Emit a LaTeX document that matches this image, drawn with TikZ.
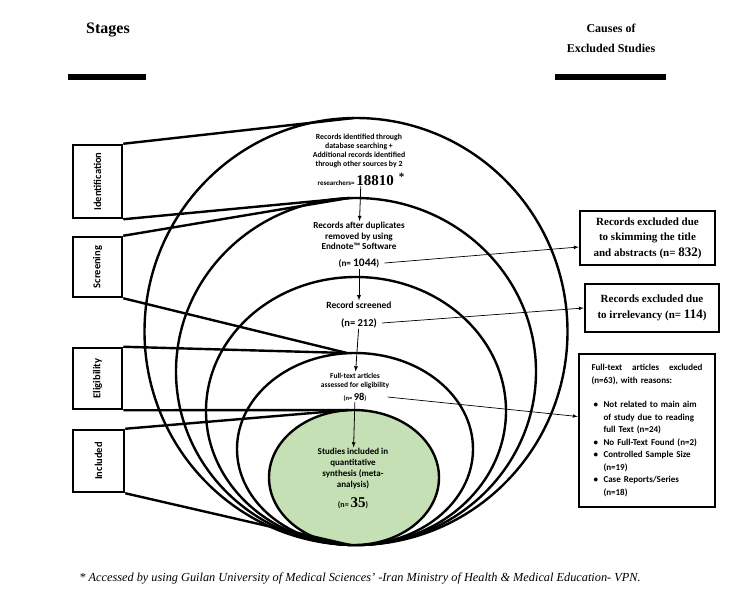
\documentclass[tikz,border=0pt]{standalone}
\usepackage{fontspec}
\setmainfont{Liberation Serif}
\newfontfamily\calib{Carlito}
\usepackage{tikz}
\usetikzlibrary{positioning}
\definecolor{incgreen}{RGB}{197,224,180}
\tikzstyle{stagebox}=[draw, line width=2.5pt, minimum width=49pt, inner sep=0pt, font=\calib\bfseries\fontsize{10.5}{12}\selectfont]
\tikzstyle{exbox}=[draw, line width=2.5pt, inner sep=0pt, align=center, font=\bfseries\fontsize{11}{15.5}\selectfont]
\tikzstyle{ring}=[line width=2.4pt]
\tikzstyle{link}=[line width=2.4pt]
\tikzstyle{flow}=[-latex, line width=0.8pt]
\tikzstyle{cause}=[-latex, line width=0.7pt]
\tikzstyle{inner}=[align=center, inner sep=1pt, font=\calib\bfseries\fontsize{9.2}{10.5}\selectfont]
\newcommand{\bignum}[2][14]{{\fontsize{#1}{#1}\selectfont\rmfamily #2}}
\newcommand{\sansnum}[2][11]{{\fontsize{#1}{#1}\selectfont #2}}

\begin{document}
\begin{tikzpicture}[x=1pt, y=-1pt]
    \useasboundingbox (0,0) rectangle (750,595);
    % headers
    \node[font=\bfseries\fontsize{16}{18}\selectfont] (stages) at (108,30) {Stages};
    \node[font=\bfseries\fontsize{12}{20}\selectfont, align=center] (causes) at (611,38) {Causes of\\Excluded Studies};
    \draw[line width=6pt] (68,77) -- (146,77);
    \draw[line width=6pt] (555,77) -- (666,77);
    % nested stages
    \draw[ring] (356,331.5) ellipse [x radius=211.5pt, y radius=213.5pt];
    \draw[ring] (356,371.5) ellipse [x radius=180pt, y radius=173.5pt];
    \draw[ring] (356,411) ellipse [x radius=150pt, y radius=134pt];
    \draw[ring] (355,449) ellipse [x radius=118pt, y radius=96pt];
    \draw[ring, fill=incgreen] (354,477.5) ellipse [x radius=85pt, y radius=67.5pt];
    \coordinate (top1) at (354,118);
    \coordinate (top2) at (349,198);
    \coordinate (top4) at (347,353);
    \coordinate (topg) at (348,410);
    \coordinate (bottom) at (350,545);
    % stage boxes
    \node[stagebox, minimum height=73pt] (ident) at (97.5,181.5) {\rotatebox{90}{Identification}};
    \node[stagebox, minimum height=60pt] (screen) at (97.5,267) {\rotatebox{90}{Screening}};
    \node[stagebox, minimum height=61pt] (elig) at (97.5,378.5) {\rotatebox{90}{Eligibility}};
    \node[stagebox, minimum height=62pt, minimum width=51pt] (incl) at (98.5,461) {\rotatebox{90}{Included}};
    \draw[link] (ident.north east) -- (top1);
    \draw[link] (ident.south east) -- (top2);
    \draw[link] (screen.north east) -- (top2);
    \draw[link] (screen.south east) -- (top4);
    \draw[link] (elig.north east) -- (top4);
    \draw[link] (elig.south east) -- (topg);
    \draw[link] (incl.north east) -- (topg);
    \draw[link] (incl.south east) -- (bottom);
    % texts inside
    \node[inner, font=\calib\bfseries\fontsize{7.8}{9}\selectfont] (found) at (359,150.5) {Records identified through\\database searching +\\Additional records identified\\through other sources by 2};
    \node[inner, font=\calib\bfseries\fontsize{7}{9}\selectfont] (n18810) at (361,179) {researchers= \bignum[15]{18810}\hspace{5pt}\raisebox{5pt}{\bignum[11]{*}}};
    \node[inner] (dup) at (359,236) {Records after duplicates\\removed by using\\Endnote™ Software};
    \node[inner] (n1044) at (359,263) {(n= \sansnum[11.5]{1044})};
    \node[inner, font=\calib\bfseries\fontsize{9.5}{10.5}\selectfont] (screened) at (359,305) {Record screened};
    \node[inner, font=\calib\bfseries\fontsize{10.5}{11}\selectfont] (n212) at (359,323) {(n= 212)};
    \node[inner, font=\calib\bfseries\fontsize{7.5}{9}\selectfont] (fulltext) at (355,380.5) {Full-text articles\\assessed for eligibility};
    \node[inner, font=\calib\bfseries\fontsize{6.5}{9}\selectfont] (n98) at (355,397) {(n= \sansnum[10.5]{98})};
    \node[inner, font=\calib\bfseries\fontsize{9}{11}\selectfont] (studies) at (353,469) {Studies included in\\quantitative\\synthesis (meta-\\analysis)};
    \node[inner, font=\calib\bfseries\fontsize{8}{11}\selectfont] (n35) at (353,503) {(n= \bignum[15]{35})};
    % excluded boxes
    \node[exbox, minimum width=135pt, minimum height=54pt] (excl1) at (647.5,238) {Records excluded due\\to skimming the title\\and abstracts (n= \bignum[13]{832})};
    \node[exbox, minimum width=134pt, minimum height=48pt] (excl2) at (652,308) {Records excluded due\\to irrelevancy (n= \bignum[13]{114})};
    \node[exbox, minimum width=136pt, minimum height=153pt, text width=111pt, align=left, font=\calib\bfseries\fontsize{9}{12.5}\selectfont] (excl3) at (647,430.5) {Full-text\hfill articles\hfill excluded\\(n=63), with reasons:\\[12pt]
      \makebox[12pt][l]{\hspace{2pt}\textbullet}Not related to main aim\\
      \hspace*{12pt}of study due to reading\\
      \hspace*{12pt}full Text (n=24)\\
      \makebox[12pt][l]{\hspace{2pt}\textbullet}No Full-Text Found (n=2)\\
      \makebox[12pt][l]{\hspace{2pt}\textbullet}Controlled Sample Size\\
      \hspace*{12pt}(n=19)\\
      \makebox[12pt][l]{\hspace{2pt}\textbullet}Case Reports/Series\\
      \hspace*{12pt}(n=18)};
    % arrows
    \draw[flow] (n18810) -- (dup);
    \draw[flow] (n1044) -- (screened);
    \draw[flow] (n212) -- (fulltext);
    \draw[flow] (n98) -- (studies);
    \draw[cause] ([xshift=4pt]n1044.east) -- ([yshift=-9pt]excl1.west);
    \draw[cause] ([xshift=4pt]n212.east) -- (excl2.west);
    \draw[cause] ([xshift=20pt]n98.east) -- ([yshift=14pt]excl3.west);
    % footnote
    \node[font=\itshape\fontsize{12.3}{14}\selectfont] (note) at (360,578) {* Accessed by using Guilan University of Medical Sciences' -Iran Ministry of Health \& Medical Education- VPN.};
\end{tikzpicture}
\end{document}
